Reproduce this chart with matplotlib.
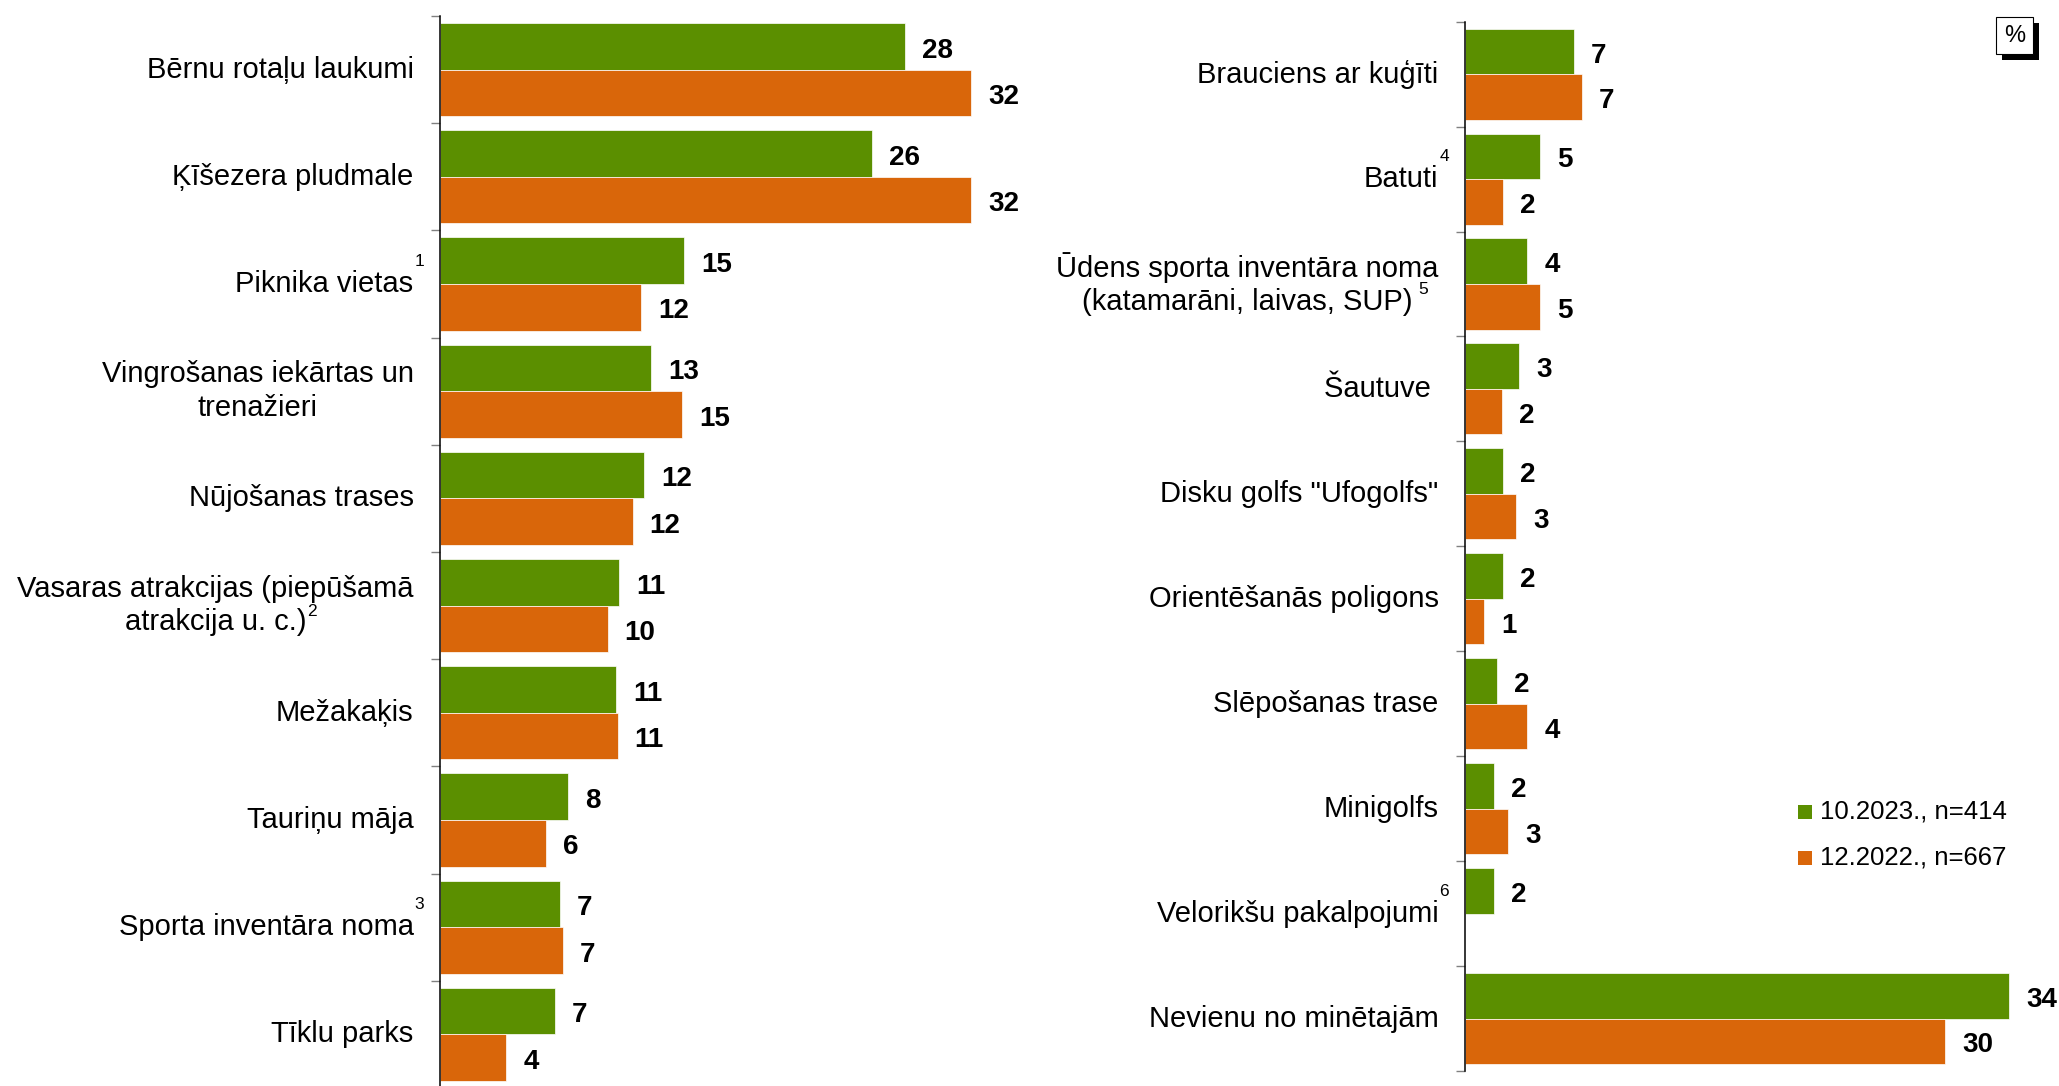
import numpy as np
import matplotlib
matplotlib.use('Agg')
import matplotlib.pyplot as plt
from matplotlib.patches import Rectangle

plt.rcParams['font.family'] = ['Liberation Sans', 'DejaVu Sans']

# ── dati ──────────────────────────────────────────────────────────────────────
SERIES = ['10.2023., n=414', '12.2022., n=667']

LEFT_LABELS = ['Bērnu rotaļu laukumi', 'Ķīšezera pludmale', 'Piknika vietas',
               'Vingrošanas iekārtas un\ntrenažieri', 'Nūjošanas trases',
               'Vasaras atrakcijas (piepūšamā\natrakcija u. c.)', 'Mežakaķis',
               'Tauriņu māja', 'Sporta inventāra noma', 'Tīklu parks']
LEFT_SUP = [None, None, '1', None, None, '2', None, None, '3', None]
LEFT_2023 = [28, 26, 14.7, 12.7, 12.3, 10.8, 10.6, 7.7, 7.2, 6.9]
LEFT_2022 = [32, 32, 12.1, 14.6, 11.6, 10.1, 10.7, 6.4, 7.4, 4.0]

RIGHT_LABELS = ['Brauciens ar kuģīti', 'Batuti',
                'Ūdens sporta inventāra noma\n(katamarāni, laivas, SUP)',
                'Šautuve ', 'Disku golfs "Ufogolfs"', 'Orientēšanās poligons',
                'Slēpošanas trase', 'Minigolfs', 'Velorikšu pakalpojumi',
                'Nevienu no minētajām']
RIGHT_SUP = [None, '4', ' 5', None, None, None, None, None, '6', None]
RIGHT_2023 = [6.8, 4.7, 3.9, 3.4, 2.4, 2.4, 2.0, 1.8, 1.8, 34]
RIGHT_2022 = [7.3, 2.4, 4.7, 2.3, 3.2, 1.2, 3.9, 2.7, np.nan, 30]

GREEN = '#5B8F00'
ORANGE = '#D9660A'

# ── figura ────────────────────────────────────────────────────────────────────
W, H, DPI = 2059, 1086, 100
fig = plt.figure(figsize=(W / DPI, H / DPI), dpi=DPI, facecolor='white')


def px_axes(x0, top, bottom, width):
    return fig.add_axes([x0 / W, 1 - bottom / H, width / W, (bottom - top) / H])


def panel(ax, labels, v23, v22, xmax):
    n = len(labels)
    y = np.arange(n)
    h = 0.434
    ax.barh(y - h / 2, v23, height=h, color=GREEN, edgecolor='white', linewidth=0.5)
    ax.barh(y + h / 2, v22, height=h, color=ORANGE, edgecolor='white', linewidth=0.5)
    ax.set_ylim(n - 0.5, -0.5)
    ax.set_xlim(0, xmax)
    ax.set_yticks(y, labels, fontsize=21, linespacing=1.25,
                  multialignment='center', va='center')
    ax.set_yticks(np.arange(n + 1) - 0.5, minor=True)
    ax.tick_params(axis='y', which='major', length=0, pad=19)
    ax.tick_params(axis='y', which='minor', length=6.5, width=1, color='#808080')
    ax.set_xticks([])
    for s in ['top', 'right', 'bottom']:
        ax.spines[s].set_visible(False)
    ax.spines['left'].set_linewidth(1.1)
    ax.patch.set_alpha(0)
    for yy, vals in ((y - h / 2, v23), (y + h / 2, v22)):
        for yi, v in zip(yy, vals):
            if np.isnan(v):
                continue
            ax.annotate(f'{v:.0f}', (v, yi), xytext=(12.2, -3),
                        textcoords='offset points', ha='left', va='center',
                        fontsize=20, fontweight='bold')


axl = px_axes(440, 16, 1088, 40 * 16.6)
panel(axl, LEFT_LABELS, LEFT_2023, LEFT_2022, 40)

axr = px_axes(1465, 21.7, 1071, 36 * 16.0)
panel(axr, RIGHT_LABELS, RIGHT_2023, RIGHT_2022, 36)

# ── legenda ───────────────────────────────────────────────────────────────────
for k, (lab, col) in enumerate(zip(SERIES, [GREEN, ORANGE])):
    yc = 812 + 46 * k
    fig.add_artist(Rectangle((1798 / W, 1 - (yc + 7) / H), 14 / W, 14 / H,
                             facecolor=col, edgecolor='none',
                             transform=fig.transFigure))
    fig.text(1820 / W, 1 - yc / H, lab, fontsize=18.5, va='center')

# ── riquadro % ────────────────────────────────────────────────────────────────
fig.add_artist(Rectangle((2002 / W, 1 - 60 / H), 37 / W, 37 / H,
                         facecolor='black', edgecolor='none',
                         transform=fig.transFigure))
fig.add_artist(Rectangle((1996 / W, 1 - 54 / H), 37 / W, 37 / H,
                         facecolor='white', edgecolor='black', linewidth=0.8,
                         transform=fig.transFigure))
fig.text(2014.5 / W, 1 - 36 / H, '%', fontsize=17, ha='center', va='center')

# ── apici ─────────────────────────────────────────────────────────────────────
fig.canvas.draw()
r = fig.canvas.get_renderer()
inv = fig.transFigure.inverted()
for ax, sups in ((axl, LEFT_SUP), (axr, RIGHT_SUP)):
    for lab, sup in zip(ax.get_yticklabels(), sups):
        if not sup:
            continue
        bb = lab.get_window_extent(r)
        lines = lab.get_text().split('\n')
        tmp = fig.text(0, 0, lines[-1], fontsize=21)
        w = tmp.get_window_extent(r).width
        tmp.remove()
        gap = 6 if sup.startswith(' ') else 1
        x = bb.x1 - (bb.width - w) / 2 + gap
        if len(lines) > 1:
            top = bb.y0 + bb.height / len(lines) - 13
        else:
            top = bb.y1 + 1
        fx, fy = inv.transform((x, top))
        fig.text(fx, fy, sup.strip(), fontsize=12.5, ha='left', va='bottom')

fig.savefig('out.png', dpi=DPI, facecolor='white')
